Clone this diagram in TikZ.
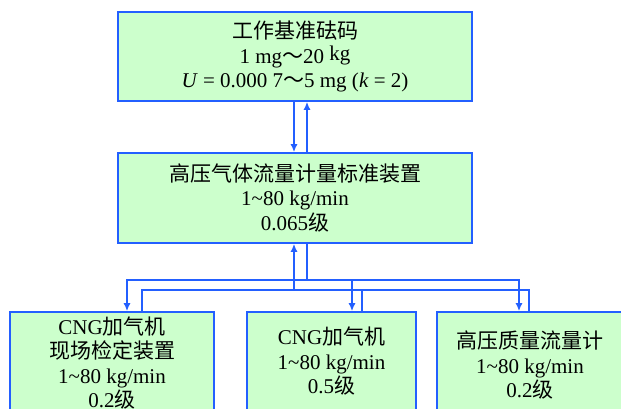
\documentclass[tikz,border=0pt]{standalone}
\usepackage{fontspec}
\setmainfont{Liberation Serif}
\newfontfamily\cjkfam{Noto Sans CJK SC}
\newcommand\zh[1]{{\cjkfam #1}}
\usetikzlibrary{arrows.meta}
\definecolor{boxblue}{RGB}{35,95,255}
\definecolor{boxfill}{RGB}{204,255,204}
\tikzset{
  box/.style={draw=boxblue, line width=1.6pt, fill=boxfill, align=center,
    inner sep=0pt, font=\fontsize{21}{24.5}\selectfont},
  conn/.style={draw=boxblue, line width=1.8pt},
  arr/.style={conn, -{Latex[length=8pt,width=7pt]}}
}
\begin{document}
\begin{tikzpicture}[x=1pt,y=-1pt]
\useasboundingbox (0,0) rectangle (621,408);
\clip (0,0) rectangle (621,408);
\node[box, minimum width=354pt, minimum height=89pt] (top) at (295,56.5)
  {\zh{工作基准砝码}\\1 mg\zh{～}20 \raisebox{3pt}{kg}\\\textit{U} = 0.000 7\zh{～}5 mg (\textit{k} = 2)};
\node[box, minimum width=354pt, minimum height=90pt] (mid) at (295,198)
  {\zh{高压气体流量计量标准装置}\\1\textasciitilde80 kg/min\\0.065\zh{级}};
\node[box, minimum width=204pt, minimum height=102pt] (bl) at (112,363)
  {CNG\zh{加气机}\\\zh{现场检定装置}\\1\textasciitilde80 kg/min\\0.2\zh{级}};
\node[box, minimum width=169pt, minimum height=99pt] (bm) at (331.5,361.5)
  {CNG\zh{加气机}\\1\textasciitilde80 kg/min\\0.5\zh{级}};
\node[box, minimum width=186pt, minimum height=107pt] (br) at (530,365.5)
  {\zh{高压质量流量计}\\1\textasciitilde80 kg/min\\0.2\zh{级}};
% top <-> mid
\draw[arr] ([xshift=-1pt]top.south) -- ([xshift=-1pt]mid.north);
\draw[arr] ([xshift=12pt]mid.north) -- ([xshift=12pt]top.south);
% mid -> bottom
\coordinate (j1) at (307,280);
\coordinate (j2) at (294,290);
\draw[conn] ([xshift=12pt]mid.south) -- (j1);
\draw[arr] (j1) -| ([xshift=15pt]bl.north);
\draw[arr] (j1) -| ([xshift=20.5pt]bm.north);
\draw[arr] (j1) -| ([xshift=-11pt]br.north);
% bottom -> mid
\draw[arr] (j2) -- ([xshift=-1pt]mid.south);
\draw[conn] ([xshift=30pt]bl.north) |- (j2);
\draw[conn] ([xshift=30.5pt]bm.north) |- (j2);
\draw[conn] ([xshift=-1pt]br.north) |- (j2);
\end{tikzpicture}
\end{document}
